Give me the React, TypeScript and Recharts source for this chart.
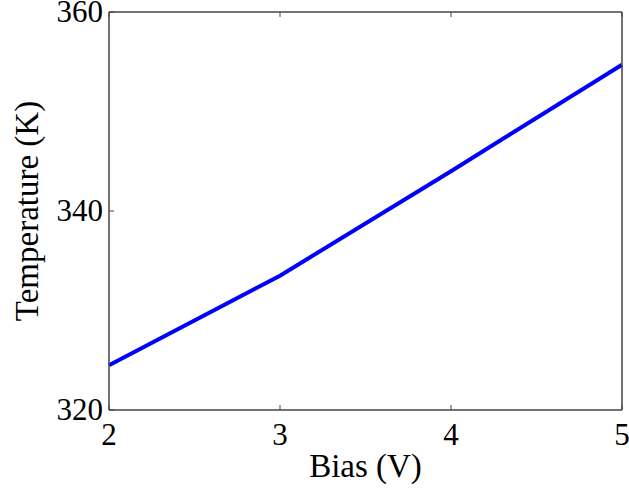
import React from "react"
import { LineChart, Line, XAxis, YAxis } from "recharts"

const bias = [2, 3, 4, 5]
const temperature = [324.5, 333.5, 344.0, 354.7]
const xTicks = [2, 3, 4, 5]
const yTicks = [320, 340, 360]

const data = bias.map((b, i) => ({ bias: b, temperature: temperature[i] }))

const FONT = "'Liberation Serif', 'Times New Roman', serif"
const AXIS = "#444"
const TICK = 5

function BottomTick({ x, y, payload }: any) {
  return (
    <g>
      <line x1={x} y1={y} x2={x} y2={y - TICK} stroke={AXIS} strokeWidth={1} />
      <text x={x} y={y + 35} textAnchor="middle" fontFamily={FONT} fontSize={31} fill="#000">
        {payload.value}
      </text>
    </g>
  )
}

function TopTick({ x, y }: any) {
  return <line x1={x} y1={y} x2={x} y2={y + TICK} stroke={AXIS} strokeWidth={1} />
}

function LeftTick({ x, y, payload }: any) {
  return (
    <g>
      <line x1={x} y1={y} x2={x + TICK} y2={y} stroke={AXIS} strokeWidth={1} />
      <text x={x - 6} y={y + 10} textAnchor="end" fontFamily={FONT} fontSize={31} fill="#000">
        {payload.value}
      </text>
    </g>
  )
}

function RightTick({ x, y }: any) {
  return <line x1={x} y1={y} x2={x - TICK} y2={y} stroke={AXIS} strokeWidth={1} />
}

function YLabel({ viewBox }: any) {
  const cx = viewBox.x + 27
  const cy = viewBox.y + viewBox.height / 2
  return (
    <text
      x={cx}
      y={cy}
      transform={`rotate(-90 ${cx} ${cy})`}
      textAnchor="middle"
      dominantBaseline="central"
      fontFamily={FONT}
      fontSize={33}
      fill="#000"
    >
      Temperature (K)
    </text>
  )
}

function XLabel({ viewBox }: any) {
  const cx = viewBox.x + viewBox.width / 2
  const cy = viewBox.y + 56
  return (
    <text x={cx} y={cy} textAnchor="middle" dominantBaseline="central" fontFamily={FONT} fontSize={33} fill="#000">
      Bias (V)
    </text>
  )
}

export default function App() {
  return (
    <div style={{ position: "absolute", left: 0, top: 0, width: 629, height: 490, background: "#fff" }}>
      <LineChart width={629} height={490} data={data} margin={{ top: 11, right: 6, bottom: 0, left: 0 }}>
        <XAxis
          xAxisId="bottom"
          dataKey="bias"
          type="number"
          domain={[2, 5]}
          ticks={xTicks}
          height={80}
          tickSize={0}
          tickMargin={0}
          axisLine={{ stroke: AXIS, strokeWidth: 1.5 }}
          tick={<BottomTick />}
          label={<XLabel />}
        />
        <XAxis
          xAxisId="top"
          orientation="top"
          dataKey="bias"
          type="number"
          domain={[2, 5]}
          ticks={xTicks}
          height={1}
          tickSize={0}
          tickMargin={0}
          axisLine={{ stroke: AXIS, strokeWidth: 1.5 }}
          tick={<TopTick />}
        />
        <YAxis
          yAxisId="left"
          type="number"
          domain={[320, 360]}
          ticks={yTicks}
          width={109}
          tickSize={0}
          tickMargin={0}
          axisLine={{ stroke: AXIS, strokeWidth: 1.5 }}
          tick={<LeftTick />}
          label={<YLabel />}
        />
        <YAxis
          yAxisId="right"
          orientation="right"
          type="number"
          domain={[320, 360]}
          ticks={yTicks}
          width={1}
          tickSize={0}
          tickMargin={0}
          axisLine={{ stroke: AXIS, strokeWidth: 1.5 }}
          tick={<RightTick />}
        />
        <Line
          xAxisId="bottom"
          yAxisId="left"
          type="linear"
          dataKey="temperature"
          stroke="#0000ff"
          strokeWidth={4}
          dot={false}
          isAnimationActive={false}
        />
      </LineChart>
    </div>
  )
}
